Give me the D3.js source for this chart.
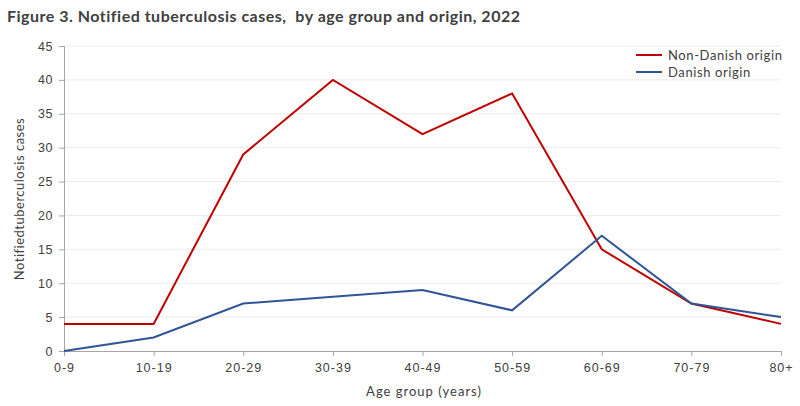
<!DOCTYPE html>
<html><head><meta charset="utf-8">
<script src="https://cdn.jsdelivr.net/npm/d3@7"></script>
<style>body{margin:0;background:#fff;} svg{font-family:"Lato","Open Sans",sans-serif;}</style>
</head><body>
<svg id="c" width="800" height="406"></svg>
<script>
const categories = ["0-9","10-19","20-29","30-39","40-49","50-59","60-69","70-79","80+"];
const nonDanish = [4,4,29,40,32,38,15,7,4];
const danish = [0,2,7,8,9,6,17,7,5];
const yTicks = [0,5,10,15,20,25,30,35,40,45];

const svg = d3.select("#c");
const x = d3.scalePoint().domain(categories).range([64,781]);
const y = d3.scaleLinear().domain([0,45]).range([351,46]);
const txt = "#404040";

svg.append("text").attr("x",7).attr("y",22).attr("font-size",16).attr("font-weight","bold")
  .style("white-space","pre")
  .attr("letter-spacing",0.5).attr("fill","#404040").text("Figure 3. Notified tuberculosis cases,  by age group and origin, 2022");

// gridlines
svg.append("g").selectAll("line").data(yTicks.filter(d=>d>0)).join("line")
  .attr("x1",64).attr("x2",781).attr("y1",d=>y(d)).attr("y2",d=>y(d))
  .attr("stroke","#ebebeb").attr("stroke-width",1);

const ya = svg.append("g").attr("transform","translate(64,0)")
  .call(d3.axisLeft(y).tickValues(yTicks).tickSize(5).tickPadding(6));
ya.select(".domain").attr("stroke","#a6a6a6");
ya.selectAll(".tick line").attr("stroke","#a6a6a6");
ya.selectAll("text").attr("font-size",12.5).attr("letter-spacing",0.5).attr("fill",txt).attr("font-family",null);

const xa = svg.append("g").attr("transform","translate(0,351)")
  .call(d3.axisBottom(x).tickSize(5).tickPadding(7));
xa.select(".domain").attr("stroke","#a6a6a6");
xa.selectAll(".tick line").attr("stroke","#a6a6a6");
xa.selectAll("text").attr("font-size",12.5).attr("letter-spacing",1).attr("fill",txt).attr("font-family",null);

svg.append("text").attr("x",424).attr("y",396).attr("text-anchor","middle").attr("font-size",13)
  .attr("letter-spacing",1).attr("fill",txt).text("Age group (years)");
svg.append("text").attr("transform","translate(24,199) rotate(-90)").attr("text-anchor","middle")
  .attr("font-size",13).attr("letter-spacing",0.5).attr("fill",txt).text("Notifiedtuberculosis cases");

const line = d3.line().x((d,i)=>x(categories[i])).y(d=>y(d));
const series = [{name:"Non-Danish origin",vals:nonDanish,color:"#c00000"},{name:"Danish origin",vals:danish,color:"#2f5597"}];
series.forEach(s=>{
  svg.append("path").attr("d",line(s.vals)).attr("fill","none").attr("stroke",s.color).attr("stroke-width",2);
});

const lg = svg.append("g");
series.forEach((s,i)=>{
  const yy = 55 + i*17;
  lg.append("line").attr("x1",636).attr("x2",662).attr("y1",yy).attr("y2",yy).attr("stroke",s.color).attr("stroke-width",2);
  lg.append("text").attr("x",668).attr("y",yy+4.5).attr("font-size",13).attr("letter-spacing",0.6).attr("fill",txt).text(s.name);
});
</script>
</body></html>
